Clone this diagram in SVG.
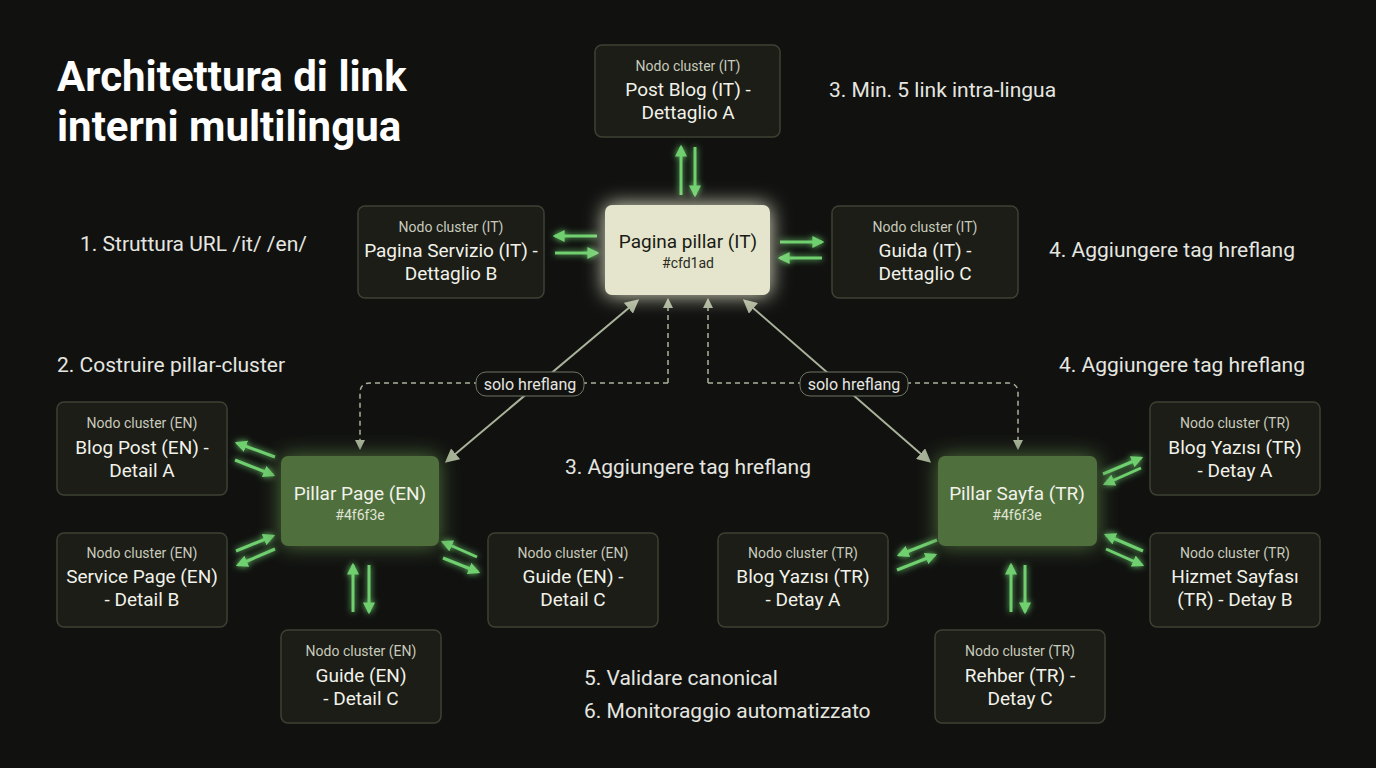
<svg xmlns="http://www.w3.org/2000/svg" width="1376" height="768" viewBox="0 0 1376 768">
<defs>
<style>
text{font-family:Roboto,"Liberation Sans",sans-serif;text-anchor:middle}
.cl rect{fill:#1b1d16;stroke:#3c4133;stroke-width:1.5}
.sm{fill:#c8cabd;font-size:14px}
.bg{fill:#f2f2ea;font-size:19px}
.lb{fill:#e6e6e0;font-size:21px;text-anchor:start}
.g{stroke:#6fd06f;stroke-width:3;fill:none;marker-end:url(#ga);filter:url(#glow)}
.gr{stroke:#a9b39a;stroke-width:2;fill:none}
.ds{stroke:#a9b39a;stroke-width:1.5;fill:none;stroke-dasharray:5 4;marker-end:url(#da)}
</style>
<marker id="ga" viewBox="0 0 10 10" refX="8" refY="5" markerWidth="4" markerHeight="4" orient="auto"><path d="M0,0L10,5L0,10z" fill="#6fd06f"/></marker>
<marker id="da" viewBox="0 0 10 10" refX="8" refY="5" markerWidth="7" markerHeight="7" orient="auto-start-reverse"><path d="M0,0L10,5L0,10z" fill="#a9b39a"/></marker>
<filter id="glow" filterUnits="userSpaceOnUse" x="0" y="0" width="1376" height="768"><feGaussianBlur stdDeviation="3" result="b"/><feMerge><feMergeNode in="b"/><feMergeNode in="SourceGraphic"/></feMerge></filter>
<filter id="glow2" x="-30%" y="-30%" width="160%" height="160%"><feGaussianBlur stdDeviation="10" result="b"/><feMerge><feMergeNode in="b"/><feMergeNode in="SourceGraphic"/></feMerge></filter>
</defs>
<rect width="1376" height="768" fill="#111210"/>
<text x="57" y="91" style="text-anchor:start;font-weight:bold" fill="#fff" font-size="42">Architettura di link</text>
<text x="57" y="141" style="text-anchor:start;font-weight:bold" fill="#fff" font-size="42">interni multilingua</text>
<text class="lb" x="829" y="97">3. Min. 5 link intra-lingua</text>
<text class="lb" x="80" y="251">1. Struttura URL /it/ /en/</text>
<text class="lb" x="1049" y="257">4. Aggiungere tag hreflang</text>
<text class="lb" x="57" y="372">2. Costruire pillar-cluster</text>
<text class="lb" x="1059" y="372">4. Aggiungere tag hreflang</text>
<text class="lb" x="565" y="474">3. Aggiungere tag hreflang</text>
<text class="lb" x="584" y="685">5. Validare canonical</text>
<text class="lb" x="584" y="718">6. Monitoraggio automatizzato</text>

<g id="connectors">
<path class="gr" d="M447,461L637,301" marker-start="url(#da)" marker-end="url(#da)"/>
<path class="gr" d="M929,461L745,301" marker-start="url(#da)" marker-end="url(#da)"/>
<path class="ds" d="M668,383V300"/>
<path class="ds" d="M668,383H370Q360,383 360,393V448"/>
<path class="ds" d="M708,383V300"/>
<path class="ds" d="M708,383H1008Q1018,383 1018,393V448"/>
<g>
<rect x="476" y="372" width="108" height="24" rx="10" fill="#111210" stroke="#6e7563"/>
<text x="530" y="390" fill="#e6e6e0" font-size="16">solo hreflang</text>
<rect x="800" y="372" width="108" height="24" rx="10" fill="#111210" stroke="#6e7563"/>
<text x="854" y="390" fill="#e6e6e0" font-size="16">solo hreflang</text>
</g>
<path class="g" d="M681,195V147"/><path class="g" d="M695,147V195"/>
<path class="g" d="M597,236H555"/><path class="g" d="M555,253H597"/>
<path class="g" d="M780,242H822"/><path class="g" d="M822,258H780"/>
<path class="g" d="M275,457L237,443"/><path class="g" d="M235,460L273,475"/>
<path class="g" d="M236,551L273,536"/><path class="g" d="M275,549L238,565"/>
<path class="g" d="M477,557L443,542"/><path class="g" d="M443,558L478,572"/>
<path class="g" d="M353,612V565"/><path class="g" d="M369,565V612"/>
<path class="g" d="M937,540L899,555"/><path class="g" d="M897,570L935,555"/>
<path class="g" d="M1103,474L1141,458"/><path class="g" d="M1141,468L1105,484"/>
<path class="g" d="M1143,551L1106,535"/><path class="g" d="M1106,549L1142,565"/>
<path class="g" d="M1011,612V565"/><path class="g" d="M1025,565V612"/>
</g>

<g id="it-pillar"><rect x="605" y="205" width="165" height="90" rx="7" fill="#e4e5cc" filter="url(#glow2)"/>
<text x="688" y="248" fill="#1a1a14" font-size="19">Pagina pillar (IT)</text><text x="688" y="268" fill="#2a2a22" font-size="14">#cfd1ad</text></g>
<g id="it-a" class="cl"><rect x="595" y="45" width="185" height="92" rx="7"/><text class="sm" x="688" y="71">Nodo cluster (IT)</text><text class="bg" x="688" y="96">Post Blog (IT) -</text><text class="bg" x="688" y="119">Dettaglio A</text></g>
<g id="it-b" class="cl"><rect x="358" y="206" width="186" height="92" rx="7"/><text class="sm" x="451" y="232">Nodo cluster (IT)</text><text class="bg" x="451" y="257">Pagina Servizio (IT) -</text><text class="bg" x="451" y="280">Dettaglio B</text></g>
<g id="it-c" class="cl"><rect x="832" y="206" width="186" height="92" rx="7"/><text class="sm" x="925" y="232">Nodo cluster (IT)</text><text class="bg" x="925" y="257">Guida (IT) -</text><text class="bg" x="925" y="280">Dettaglio C</text></g>

<g id="en-pillar"><rect x="281" y="456" width="158" height="90" rx="7" fill="#4f6f3e" filter="url(#glow2)"/>
<text x="360" y="500" fill="#f2f2ea" font-size="19">Pillar Page (EN)</text><text x="360" y="520" fill="#e0e4d6" font-size="14">#4f6f3e</text></g>
<g id="en-a" class="cl"><rect x="57" y="402" width="170" height="93" rx="7"/><text class="sm" x="142" y="428">Nodo cluster (EN)</text><text class="bg" x="142" y="454">Blog Post (EN) -</text><text class="bg" x="142" y="477">Detail A</text></g>
<g id="en-b" class="cl"><rect x="57" y="533" width="170" height="94" rx="7"/><text class="sm" x="142" y="558">Nodo cluster (EN)</text><text class="bg" x="142" y="583">Service Page (EN)</text><text class="bg" x="142" y="606">- Detail B</text></g>
<g id="en-c" class="cl"><rect x="488" y="533" width="170" height="94" rx="7"/><text class="sm" x="573" y="558">Nodo cluster (EN)</text><text class="bg" x="573" y="583">Guide (EN) -</text><text class="bg" x="573" y="606">Detail C</text></g>
<g id="en-d" class="cl"><rect x="281" y="630" width="160" height="93" rx="7"/><text class="sm" x="361" y="656">Nodo cluster (EN)</text><text class="bg" x="361" y="682">Guide (EN)</text><text class="bg" x="361" y="705">- Detail C</text></g>

<g id="tr-pillar"><rect x="938" y="456" width="159" height="90" rx="7" fill="#4f6f3e" filter="url(#glow2)"/>
<text x="1017" y="500" fill="#f2f2ea" font-size="19">Pillar Sayfa (TR)</text><text x="1017" y="520" fill="#e0e4d6" font-size="14">#4f6f3e</text></g>
<g id="tr-a" class="cl"><rect x="1150" y="402" width="170" height="93" rx="7"/><text class="sm" x="1235" y="428">Nodo cluster (TR)</text><text class="bg" x="1235" y="454">Blog Yazısı (TR)</text><text class="bg" x="1235" y="477">- Detay A</text></g>
<g id="tr-b" class="cl"><rect x="1150" y="533" width="170" height="94" rx="7"/><text class="sm" x="1235" y="558">Nodo cluster (TR)</text><text class="bg" x="1235" y="583">Hizmet Sayfası</text><text class="bg" x="1235" y="606">(TR) - Detay B</text></g>
<g id="tr-c" class="cl"><rect x="718" y="533" width="170" height="94" rx="7"/><text class="sm" x="803" y="558">Nodo cluster (TR)</text><text class="bg" x="803" y="583">Blog Yazısı (TR)</text><text class="bg" x="803" y="606">- Detay A</text></g>
<g id="tr-d" class="cl"><rect x="935" y="630" width="170" height="93" rx="7"/><text class="sm" x="1020" y="656">Nodo cluster (TR)</text><text class="bg" x="1020" y="682">Rehber (TR) -</text><text class="bg" x="1020" y="705">Detay C</text></g>
</svg>
